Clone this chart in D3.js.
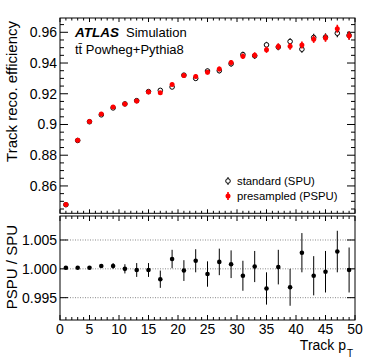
<!DOCTYPE html>
<html>
<head>
<meta charset="utf-8">
<script src="https://cdn.jsdelivr.net/npm/d3@7"></script>
<style>
  body { margin: 0; background: #fff; }
  text { font-family: "Liberation Sans", Arial, sans-serif; }
</style>
</head>
<body>
<svg id="chart" width="374" height="359"></svg>
<script>
// bin centres in track pT
const ptBins = [1, 3, 5, 7, 9, 11, 13, 15, 17, 19, 21, 23, 25, 27, 29, 31, 33, 35, 37, 39, 41, 43, 45, 47, 49];

// standard pile-up (SPU), open markers
const effSPU = [0.8478, 0.8896, 0.9018, 0.9063, 0.9108, 0.9134, 0.9155, 0.9214, 0.9222, 0.9244,
                0.9321, 0.9300, 0.9348, 0.9350, 0.9395, 0.9455, 0.9447, 0.9518, 0.9504, 0.9540,
                0.9490, 0.9566, 0.9568, 0.9594, 0.9580];
// presampled pile-up (PSPU), red markers
const effPSPU = [0.8480, 0.8898, 0.9020, 0.9068, 0.9113, 0.9134, 0.9153, 0.9212, 0.9206, 0.9260,
                 0.9318, 0.9313, 0.9340, 0.9361, 0.9403, 0.9444, 0.9451, 0.9486, 0.9507, 0.9509,
                 0.9517, 0.9555, 0.9563, 0.9623, 0.9578];
const effErr = [0.0001, 0.0001, 0.0002, 0.0002, 0.0003, 0.0005, 0.0007, 0.0008, 0.0010, 0.0011,
                0.0012, 0.0014, 0.0015, 0.0016, 0.0017, 0.0018, 0.0019, 0.0020, 0.0021, 0.0022,
                0.0023, 0.0024, 0.0025, 0.0026, 0.0027];

// PSPU / SPU
const ratio = [1.0002, 1.0002, 1.0002, 1.0005, 1.0005, 1.0000, 0.9998, 0.9998, 0.9982, 1.0017,
               0.9997, 1.0014, 0.9991, 1.0012, 1.0008, 0.9988, 1.0004, 0.9966, 1.0003, 0.9968,
               1.0028, 0.9988, 0.9995, 1.0030, 0.9998];
const ratioErr = [0.0001, 0.0001, 0.0002, 0.0003, 0.0005, 0.0008, 0.0012, 0.0012, 0.0015, 0.0016,
                  0.0018, 0.0020, 0.0022, 0.0023, 0.0024, 0.0026, 0.0027, 0.0028, 0.0030, 0.0032,
                  0.0034, 0.0034, 0.0036, 0.0036, 0.0039];

const topTicks = [0.86, 0.88, 0.9, 0.92, 0.94, 0.96];
const ratioTicks = [0.995, 1.0, 1.005];
const xTicks = [0, 5, 10, 15, 20, 25, 30, 35, 40, 45, 50];

const svg = d3.select("#chart");

const left = 60, right = 355;
const topY0 = 18, topY1 = 213.3;
const botY0 = 216, botY1 = 320;

const x = d3.scaleLinear().domain([0, 50]).range([left, right]);
const yTop = d3.scaleLinear().domain([0.8422, 0.9693]).range([topY1, topY0]);
const yBot = d3.scaleLinear().domain([0.99113, 1.00916]).range([botY1, botY0]);

// ROOT-style ticks drawn inside the frame
function drawFrame(y0, y1, yScale, yMajor, yMinor, xMajorLen, xMinorLen) {
    const g = svg.append("g");
    g.append("rect")
        .attr("x", left).attr("y", y0)
        .attr("width", right - left).attr("height", y1 - y0)
        .attr("fill", "none").attr("stroke", "#000").attr("stroke-width", 1);

    d3.range(0, 51, 1).forEach(v => {
        const len = v % 5 === 0 ? xMajorLen : xMinorLen;
        g.append("line").attr("x1", x(v)).attr("x2", x(v)).attr("y1", y1).attr("y2", y1 - len)
            .attr("stroke", "#000");
        g.append("line").attr("x1", x(v)).attr("x2", x(v)).attr("y1", y0).attr("y2", y0 + len)
            .attr("stroke", "#000");
    });

    yMinor.forEach(v => {
        g.append("line").attr("x1", left).attr("x2", left + 4).attr("y1", yScale(v)).attr("y2", yScale(v))
            .attr("stroke", "#000");
        g.append("line").attr("x1", right).attr("x2", right - 4).attr("y1", yScale(v)).attr("y2", yScale(v))
            .attr("stroke", "#000");
    });
    yMajor.forEach(v => {
        g.append("line").attr("x1", left).attr("x2", left + 8).attr("y1", yScale(v)).attr("y2", yScale(v))
            .attr("stroke", "#000");
        g.append("line").attr("x1", right).attr("x2", right - 8).attr("y1", yScale(v)).attr("y2", yScale(v))
            .attr("stroke", "#000");
    });
    return g;
}

// ---- top panel ----
const topMinor = d3.range(0.845, 0.969, 0.005).filter(v => Math.abs(v * 50 - Math.round(v * 50)) > 1e-6);
drawFrame(topY0, topY1, yTop, topTicks, topMinor, 4, 2.5);

svg.append("g").selectAll("text").data(topTicks).join("text")
    .attr("x", left - 3).attr("y", d => yTop(d) + 5)
    .attr("text-anchor", "end").attr("font-size", 14)
    .text(d => d3.format("")(+d.toFixed(2)));

// standard (open black)
const spu = svg.append("g");
ptBins.forEach((b, i) => {
    spu.append("line").attr("x1", x(b)).attr("x2", x(b))
        .attr("y1", yTop(effSPU[i] - effErr[i])).attr("y2", yTop(effSPU[i] + effErr[i]))
        .attr("stroke", "#000").attr("stroke-width", 1.2);
    spu.append("circle").attr("cx", x(b)).attr("cy", yTop(effSPU[i])).attr("r", 2.3)
        .attr("fill", "#fff").attr("stroke", "#000").attr("stroke-width", 1);
});

// presampled (red filled)
const pspu = svg.append("g");
ptBins.forEach((b, i) => {
    pspu.append("line").attr("x1", x(b)).attr("x2", x(b))
        .attr("y1", yTop(effPSPU[i] - effErr[i])).attr("y2", yTop(effPSPU[i] + effErr[i]))
        .attr("stroke", "#f00").attr("stroke-width", 1.6);
    pspu.append("circle").attr("cx", x(b)).attr("cy", yTop(effPSPU[i])).attr("r", 2.5)
        .attr("fill", "#f00");
});

// ATLAS label
svg.append("text").attr("x", 75).attr("y", 37)
    .attr("font-size", 13.5).attr("font-weight", "bold").attr("font-style", "italic")
    .text("ATLAS");
svg.append("text").attr("x", 126).attr("y", 37).attr("font-size", 13)
    .text("Simulation");
svg.append("text").attr("x", 75).attr("y", 54).attr("font-size", 13)
    .text("tt\u0304 Powheg+Pythia8");

// legend
svg.append("line").attr("x1", 228).attr("x2", 228).attr("y1", 177).attr("y2", 185).attr("stroke", "#000");
svg.append("circle").attr("cx", 228).attr("cy", 181).attr("r", 2.3)
    .attr("fill", "#fff").attr("stroke", "#000");
svg.append("text").attr("x", 237).attr("y", 185).attr("font-size", 11.3).text("standard (SPU)");
svg.append("line").attr("x1", 228).attr("x2", 228).attr("y1", 192).attr("y2", 200)
    .attr("stroke", "#f00").attr("stroke-width", 1.6);
svg.append("circle").attr("cx", 228).attr("cy", 196).attr("r", 2.5).attr("fill", "#f00");
svg.append("text").attr("x", 237).attr("y", 200).attr("font-size", 11.3).text("presampled (PSPU)");

svg.append("text")
    .attr("transform", `translate(17,${topY0 + 3}) rotate(-90)`)
    .attr("text-anchor", "end").attr("font-size", 15)
    .text("Track reco. efficiency");

// ---- ratio panel ----
svg.append("g").selectAll("line").data(ratioTicks).join("line")
    .attr("x1", left).attr("x2", right)
    .attr("y1", d => yBot(d)).attr("y2", d => yBot(d))
    .attr("stroke", "#888").attr("stroke-width", 1).attr("stroke-dasharray", "1,1.5");

drawFrame(botY0, botY1, yBot, ratioTicks, [], 5, 3);

svg.append("g").selectAll("text").data(ratioTicks).join("text")
    .attr("x", left - 3).attr("y", d => yBot(d) + 5)
    .attr("text-anchor", "end").attr("font-size", 14)
    .text(d => d3.format(".3f")(d));

const rg = svg.append("g");
ptBins.forEach((b, i) => {
    rg.append("line").attr("x1", x(b)).attr("x2", x(b))
        .attr("y1", yBot(ratio[i] - ratioErr[i])).attr("y2", yBot(ratio[i] + ratioErr[i]))
        .attr("stroke", "#000").attr("stroke-width", 1);
    rg.append("circle").attr("cx", x(b)).attr("cy", yBot(ratio[i])).attr("r", 2.3).attr("fill", "#000");
});

svg.append("g").selectAll("text").data(xTicks).join("text")
    .attr("x", d => x(d)).attr("y", botY1 + 14)
    .attr("text-anchor", "middle").attr("font-size", 14)
    .text(d => d);

svg.append("text")
    .attr("transform", `translate(17,${botY0 + 9}) rotate(-90)`)
    .attr("text-anchor", "end").attr("font-size", 15)
    .text("PSPU / SPU");

const xt = svg.append("text").attr("x", 346).attr("y", 350)
    .attr("text-anchor", "end").attr("font-size", 14).text("Track p");
svg.append("text").attr("x", 347).attr("y", 357).attr("font-size", 10).text("T");
</script>
</body>
</html>
